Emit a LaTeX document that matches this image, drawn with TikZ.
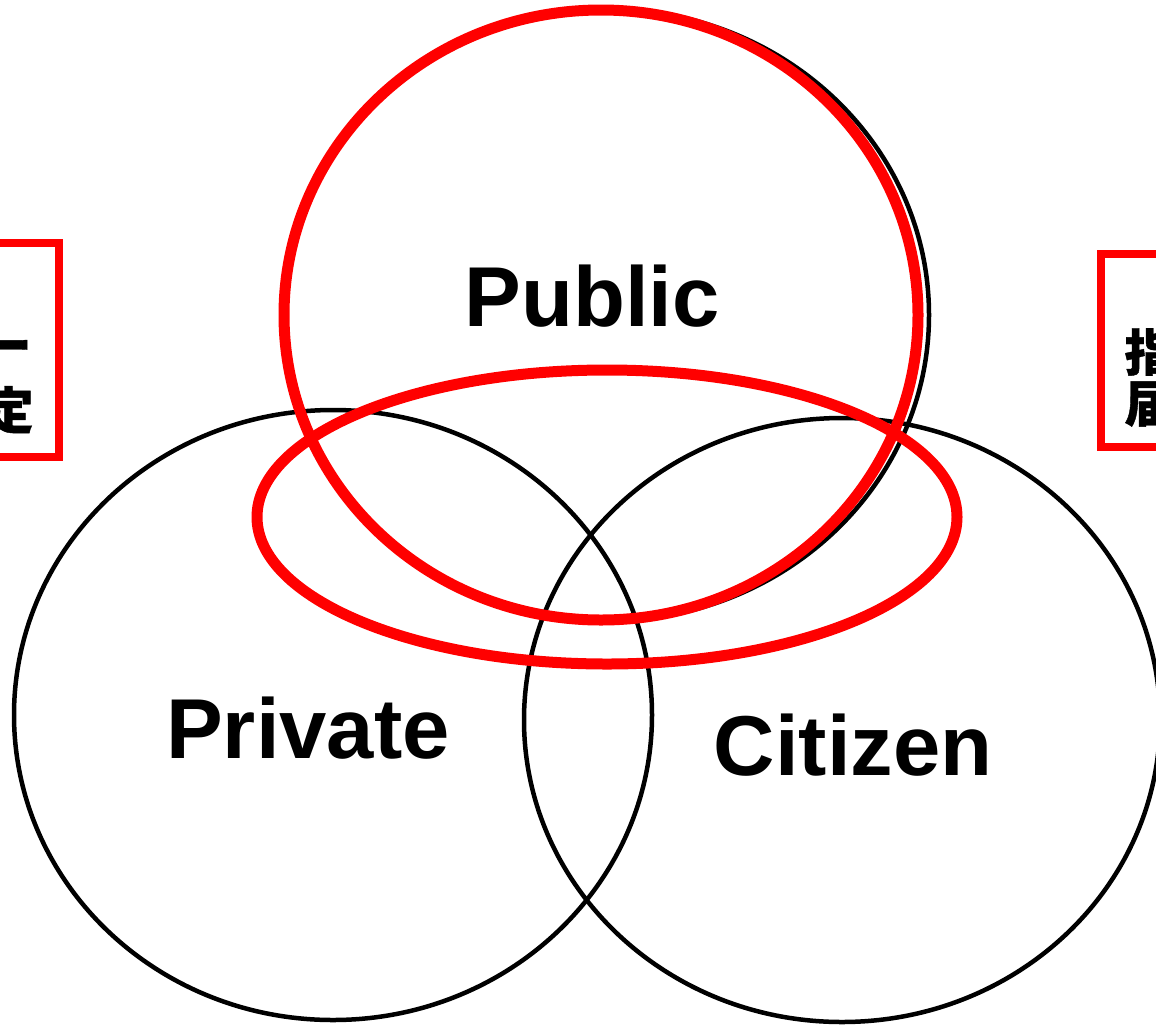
\documentclass[tikz,border=0pt]{standalone}
\usepackage{fontspec}
\setmainfont{Liberation Sans}
\newfontfamily\cjk{Noto Sans CJK JP}[FakeBold=0.8]
\begin{document}
\begin{tikzpicture}[x=1pt,y=-1pt,
  blackring/.style={draw=black,line width=4.5pt},
  redring/.style={draw=red,line width=11pt},
  redbox/.style={draw=red,line width=8pt},
  biglabel/.style={font=\fontsize{85}{85}\selectfont\bfseries},
  cjklabel/.style={font=\cjk\bfseries\fontsize{50}{50}\selectfont, text=black}]
\useasboundingbox (0,0) rectangle (1156,1026);
\clip (0,0) rectangle (1156,1026);
\fill[white] (0,0) rectangle (1156,1026);
% black circles
\draw[blackring] (333,715) ellipse [x radius=319, y radius=305];
\draw[blackring] (842,720) ellipse [x radius=318, y radius=302];
\draw[blackring] (607,315) ellipse [x radius=322, y radius=306];
% red rings
\draw[redring] (601,315) ellipse [x radius=317, y radius=305];
\draw[redring] (607,517) ellipse [x radius=350, y radius=147];
% labels
\node[biglabel] (public) at (592,296) {Public};
\node[biglabel] (private) at (308,728) {Private};
\node[biglabel] (citizen) at (853,745) {Citizen};
% side boxes
\draw[redbox] (-40,243) rectangle (59,457);
\node[cjklabel,anchor=east] (l1) at (35,352) {ー};
\node[cjklabel,anchor=east] (l2) at (37,410) {定};
\draw[redbox] (1101,254) rectangle (1200,447);
\node[cjklabel,anchor=west] (r1) at (1121,352) {指};
\node[cjklabel,anchor=west] (r2) at (1121,404) {届};
\end{tikzpicture}
\end{document}
